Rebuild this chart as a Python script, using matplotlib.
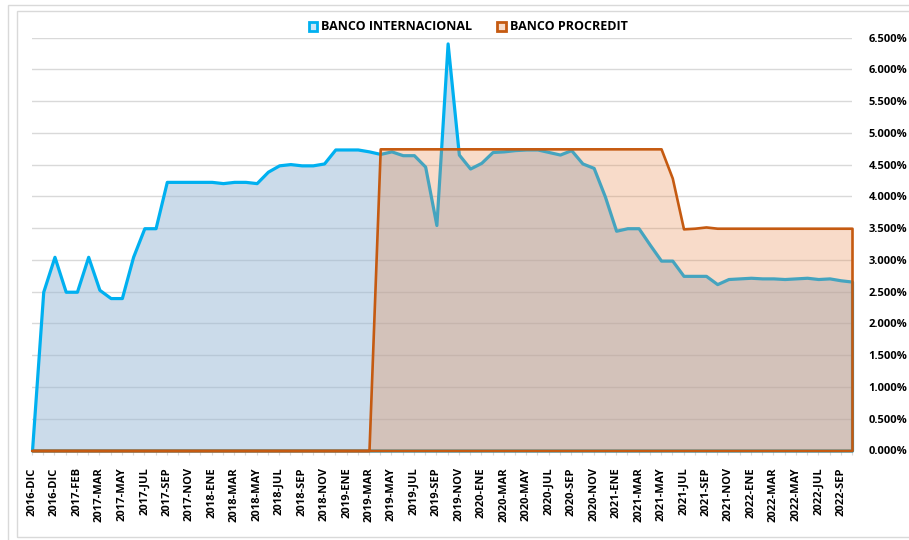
import matplotlib.pyplot as plt
import numpy as np
from matplotlib.patches import Patch, Rectangle
from matplotlib.ticker import PercentFormatter, MultipleLocator

# Tasas (%) por mes
banco_internacional = [
    0.00, 2.50, 3.05, 2.50, 2.50, 3.05, 2.53, 2.40, 2.40, 3.05,
    3.50, 3.50, 4.23, 4.23, 4.23, 4.23, 4.23, 4.21, 4.23, 4.23,
    4.21, 4.39, 4.49, 4.51, 4.49, 4.49, 4.52, 4.74, 4.74, 4.74,
    4.71, 4.67, 4.71, 4.65, 4.65, 4.47, 3.55, 6.41, 4.66, 4.44,
    4.53, 4.70, 4.71, 4.73, 4.74, 4.74, 4.70, 4.66, 4.73, 4.52,
    4.45, 4.00, 3.46, 3.50, 3.50, 3.24, 2.99, 2.99, 2.75, 2.75,
    2.75, 2.62, 2.70, 2.71, 2.72, 2.71, 2.71, 2.70, 2.71, 2.72,
    2.70, 2.71, 2.68, 2.66,
]
banco_procredit = [
    0.00, 0.00, 0.00, 0.00, 0.00, 0.00, 0.00, 0.00, 0.00, 0.00,
    0.00, 0.00, 0.00, 0.00, 0.00, 0.00, 0.00, 0.00, 0.00, 0.00,
    0.00, 0.00, 0.00, 0.00, 0.00, 0.00, 0.00, 0.00, 0.00, 0.00,
    0.00, 4.75, 4.75, 4.75, 4.75, 4.75, 4.75, 4.75, 4.75, 4.75,
    4.75, 4.75, 4.75, 4.75, 4.75, 4.75, 4.75, 4.75, 4.75, 4.75,
    4.75, 4.75, 4.75, 4.75, 4.75, 4.75, 4.75, 4.29, 3.49, 3.50,
    3.52, 3.50, 3.50, 3.50, 3.50, 3.50, 3.50, 3.50, 3.50, 3.50,
    3.50, 3.50, 3.50, 3.50,
]

# etiquetas visibles (una cada dos meses)
tick_labels = [
    '2016-DIC', '2016-DIC', '2017-FEB', '2017-MAR', '2017-MAY', '2017-JUL',
    '2017-SEP', '2017-NOV', '2018-ENE', '2018-MAR', '2018-MAY', '2018-JUL',
    '2018-SEP', '2018-NOV', '2019-ENE', '2019-MAR', '2019-MAY', '2019-JUL',
    '2019-SEP', '2019-NOV', '2020-ENE', '2020-MAR', '2020-MAY', '2020-JUL',
    '2020-SEP', '2020-NOV', '2021-ENE', '2021-MAR', '2021-MAY', '2021-JUL',
    '2021-SEP', '2021-NOV', '2022-ENE', '2022-MAR', '2022-MAY', '2022-JUL',
    '2022-SEP',
]

blue_line = '#00B0F0'
blue_fill = (153/255, 185/255, 215/255, 0.5)
orange_line = '#C55A11'
orange_fill = (232/255, 138/255, 78/255, 0.3)

plt.rcParams['font.family'] = ['Open Sans', 'DejaVu Sans']
plt.rcParams['font.weight'] = 'bold'

fig = plt.figure(figsize=(9.09, 5.4), dpi=100)
ax = fig.add_axes([32/909, 1 - 450.5/540, 820/909, 412.8/540])

x = np.arange(len(banco_internacional))

ax.fill_between(x, 0, banco_internacional, facecolor=blue_fill,
                edgecolor=blue_line, linewidth=2.3, joinstyle='round',
                clip_on=False, zorder=2, label='BANCO INTERNACIONAL')
ax.fill_between(x, 0, banco_procredit, facecolor=orange_fill,
                edgecolor=orange_line, linewidth=1.9, joinstyle='round',
                clip_on=False, zorder=3, label='BANCO PROCREDIT')

ax.set_xlim(0, len(x) - 1)
ax.set_ylim(0, 6.5)
ax.yaxis.set_major_locator(MultipleLocator(0.5))
ax.yaxis.set_major_formatter(PercentFormatter(xmax=100, decimals=3))
ax.yaxis.tick_right()
ax.tick_params(axis='y', length=0, pad=12, labelsize=8)

labels = [''] * len(x)
labels[::2] = tick_labels
ax.set_xticks(x)
ax.set_xticklabels(labels, rotation=90, fontsize=8)
ax.tick_params(axis='x', length=3, color='#D9D9D9', pad=9)

ax.grid(axis='y', color='#D9D9D9', linewidth=1)
ax.set_axisbelow(True)
for s in ['top', 'left', 'right']:
    ax.spines[s].set_visible(False)
ax.spines['bottom'].set_color('#BFBFBF')

handles = [
    Patch(facecolor='#CCE6F8', edgecolor=blue_line, linewidth=2, label='BANCO INTERNACIONAL'),
    Patch(facecolor='#F8DDCB', edgecolor=orange_line, linewidth=2, label='BANCO PROCREDIT'),
]
leg = fig.legend(handles=handles, loc='center', bbox_to_anchor=(468/909, 1 - 27/540),
                 ncol=2, frameon=False, handlelength=0.7, handleheight=0.7,
                 handletextpad=0.3, columnspacing=2.0,
                 prop={'weight': 'bold', 'size': 9})

# marcos del grafico
fig.patches.append(Rectangle((8/909, -0.1), 1.2, 1 - 5/540 + 0.1, transform=fig.transFigure,
                             fill=False, edgecolor='#D9D9D9', linewidth=1))
fig.patches.append(Rectangle((16.7/909, 1 - 536.7/540), 1.2, (536.7 - 10.7)/540,
                             transform=fig.transFigure, fill=False,
                             edgecolor='#D9D9D9', linewidth=1))

plt.savefig('out.png', dpi=100)
